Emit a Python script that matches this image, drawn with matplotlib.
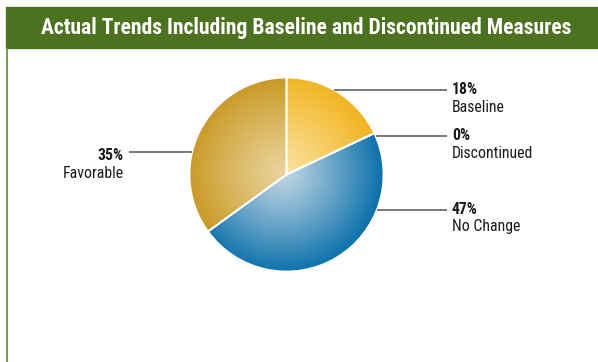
import numpy as np
import matplotlib
matplotlib.use("Agg")
import matplotlib.pyplot as plt
from matplotlib.colors import to_rgb
from matplotlib.patches import Rectangle
from matplotlib import font_manager

title = "Actual Trends Including Baseline and Discontinued Measures"
categories = ["Baseline", "Discontinued", "No Change", "Favorable"]
values = [18, 0, 47, 35]
pct_labels = ["18%", "0%", "47%", "35%"]

outer_colors = ["#F0B21A", "#F0B21A", "#0A70AB", "#C6941A"]
inner_colors = ["#FBE3A0", "#FBE3A0", "#C3D7E3", "#E9D49C"]

# font choice
avail = {f.name for f in font_manager.fontManager.ttflist}
fam = [f for f in ["Roboto Condensed", "Liberation Sans Narrow", "DejaVu Sans Condensed", "Liberation Sans"] if f in avail]
fam = fam + ["DejaVu Sans"]

W, H = 598, 362
fig = plt.figure(figsize=(W / 100, H / 100), dpi=100)
ax = fig.add_axes([0, 0, 1, 1])
ax.set_xlim(0, W)
ax.set_ylim(0, H)
ax.axis("off")

def py(y):
    return H - y

# header
ax.add_patch(Rectangle((6, py(48)), W - 6, 41, color="#4B721F", zorder=1))
ax.plot([6.5, 6.5], [py(48), 0], color="#5E8A2E", lw=1.2, zorder=1)
ax.text(306, py(28), title, color="white", fontsize=15.6, fontweight="bold",
        family=fam, ha="center", va="center", zorder=3)

cx, cy, R = 286.5, py(174.5), 97
wedges, _ = ax.pie(values, startangle=90, counterclock=False, center=(cx, cy),
                   radius=R, frame=True,
                   wedgeprops=dict(edgecolor="white", linewidth=1.3))

# radial gradient fill per wedge
n = 400
xs = np.linspace(cx - R, cx + R, n)
ys = np.linspace(cy - R, cy + R, n)
XX, YY = np.meshgrid(xs, ys)
gx, gy = cx - 5, cy + 2
dist = np.clip(np.hypot(XX - gx, YY - gy) / (R * 1.05), 0, 1)
t = dist ** 1.1
for w, oc, ic in zip(wedges, outer_colors, inner_colors):
    o = np.array(to_rgb(oc)); i = np.array(to_rgb(ic))
    img = i[None, None, :] * (1 - t[..., None]) + o[None, None, :] * t[..., None]
    w.set_facecolor("none")
    im = ax.imshow(img, extent=(cx - R, cx + R, cy - R, cy + R), origin="lower",
                   zorder=1.5, interpolation="bilinear")
    im.set_clip_path(w)
    w.set_zorder(2)
ax.set_aspect("auto")
ax.set_xlim(0, W)
ax.set_ylim(0, H)
ax.axis("off")

# label layout (pixel rows of the leader lines)
line_y = [90, 136, 210, 152]
side = [1, 1, 1, -1]
for cat, pct, ly, s in zip(categories, pct_labels, line_y, side):
    dy = py(ly) - cy
    xe = cx + s * np.sqrt(max(R ** 2 - dy ** 2, 0))
    if s > 0:
        x0, x1 = xe, 447
        tx, ha, off = 452, "left", -1
    else:
        x0, x1 = 129, xe
        tx, ha, off = 124, "right", 3
    ax.plot([x0, x1], [py(ly), py(ly)], color="#555555", lw=1.1, zorder=3,
            solid_capstyle="butt")
    ax.text(tx, py(ly + off), pct, fontsize=11.3, fontweight="bold", family=fam,
            ha=ha, va="center", color="#1a1a1a")
    ax.text(tx, py(ly + off + 18), cat, fontsize=11.3, family=fam,
            ha=ha, va="center", color="#1a1a1a")

fig.savefig("out.png", dpi=100)
